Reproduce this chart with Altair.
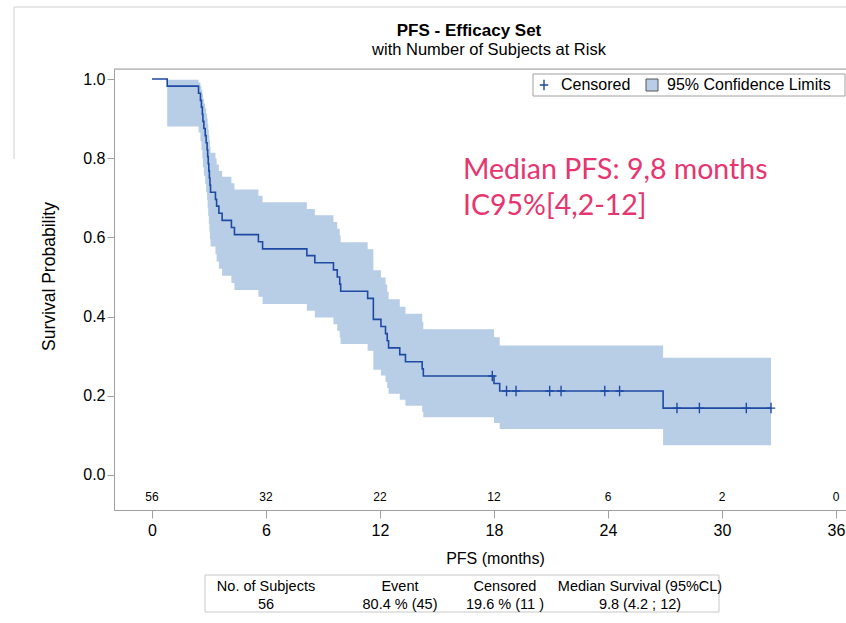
import altair as alt
import pandas as pd

# ---------------- data ----------------
step_times = [0, 0.80, 2.45, 2.55, 2.60, 2.65, 2.68, 2.73, 2.80, 2.85, 2.90,
              2.93, 2.96, 2.99, 3.02, 3.05, 3.08, 3.34, 3.40, 3.52, 3.69,
              4.18, 4.34, 5.60, 5.82, 8.15, 8.57, 9.55, 9.75, 9.88, 9.93,
              11.35, 11.65, 12.05, 12.29, 12.38, 12.45, 13.04, 13.34, 14.22, 14.28,
              18.00, 18.30, 26.90, 32.58]
survival = [1.000, 0.982, 0.964, 0.946, 0.929, 0.911, 0.893, 0.875, 0.857, 0.839, 0.821,
            0.804, 0.786, 0.768, 0.750, 0.732, 0.714, 0.696, 0.679, 0.661, 0.643,
            0.625, 0.607, 0.589, 0.571, 0.554, 0.536, 0.518, 0.500, 0.482, 0.464,
            0.446, 0.393, 0.375, 0.357, 0.339, 0.321, 0.304, 0.286, 0.268, 0.250,
            0.231, 0.212, 0.169, 0.169]
band_times = [0.80, 2.45, 2.55, 2.60, 2.65, 2.68, 2.73, 2.80, 2.85, 2.90,
              2.93, 2.96, 2.99, 3.02, 3.05, 3.08, 3.34, 3.40, 3.52, 3.69,
              4.18, 4.34, 5.60, 5.82, 8.15, 8.57, 9.55, 9.75, 9.88, 9.93,
              11.35, 11.65, 12.05, 12.29, 12.38, 12.45, 13.04, 13.34, 14.22, 14.28,
              18.00, 18.30, 26.90, 32.58]
band_lower = [0.880, 0.865, 0.843, 0.821, 0.799, 0.777, 0.756, 0.735, 0.714, 0.694,
              0.673, 0.654, 0.634, 0.615, 0.596, 0.577, 0.558, 0.539, 0.521, 0.503,
              0.485, 0.467, 0.450, 0.432, 0.415, 0.398, 0.381, 0.364, 0.347, 0.331,
              0.314, 0.266, 0.251, 0.235, 0.220, 0.205, 0.190, 0.175, 0.160, 0.146,
              0.131, 0.116, 0.075, 0.075]
band_upper = [0.998, 0.991, 0.982, 0.973, 0.962, 0.950, 0.938, 0.926, 0.913, 0.900,
              0.886, 0.872, 0.858, 0.844, 0.829, 0.814, 0.799, 0.784, 0.768, 0.753,
              0.737, 0.721, 0.705, 0.689, 0.672, 0.656, 0.639, 0.622, 0.605, 0.588,
              0.570, 0.517, 0.499, 0.481, 0.463, 0.444, 0.425, 0.407, 0.387, 0.368,
              0.348, 0.327, 0.296, 0.296]
censor_times = [17.91, 18.66, 19.16, 20.93, 21.53, 23.83, 24.61, 27.63, 28.81, 31.28, 32.58]
censor_surv = [0.250, 0.212, 0.212, 0.212, 0.212, 0.212, 0.212, 0.169, 0.169, 0.169, 0.169]
risk_times = [0, 6, 12, 18, 24, 30, 36]
risk_counts = ["56", "32", "22", "12", "6", "2", "0"]
x_ticks = [0, 6, 12, 18, 24, 30, 36]
y_ticks = [0.0, 0.2, 0.4, 0.6, 0.8, 1.0]
table_headers = ["No. of Subjects", "Event", "Censored", "Median Survival (95%CL)"]
table_values = ["56", "80.4 % (45)", "19.6 % (11 )", "9.8 (4.2 ; 12)"]
title_text = "PFS - Efficacy Set"
subtitle_text = "with Number of Subjects at Risk"
note_lines = ["Median PFS: 9,8 months", "IC95%[4,2-12]"]
legend_labels = ["Censored", "95% Confidence Limits"]

# ---------------- styling ----------------
FONT = "Liberation Sans"
BAND = "#B8CDE6"
LINE = "#1D4AA2"
GRAY = "#A0A0A0"
PINK = "#E6356F"
W, H = 732, 441
PLUS = "M0,-1L0,1M-0.8,0L0.8,0"

xs = alt.Scale(domain=[-2, 36.526], nice=False, zero=False)
ys = alt.Scale(domain=[-0.0884, 1.0253], nice=False, zero=False)
xaxis = alt.Axis(values=x_ticks, grid=False, labelFontSize=16, tickSize=8,
                 tickColor=GRAY, domainColor=GRAY, labelColor="black",
                 labelFlush=False, labelOverlap=False, labelPadding=4,
                 titleFontSize=16, titleFontWeight="normal", titlePadding=12,
                 titleColor="black", titleX=381)
yaxis = alt.Axis(values=y_ticks, format=".1f", grid=False, labelFontSize=16,
                 tickSize=7, tickColor=GRAY, domainColor=GRAY, labelColor="black",
                 labelFlush=False, labelOverlap=False, labelPadding=2,
                 titleFontSize=17.5, titleFontWeight="normal", titlePadding=24,
                 titleColor="black", titleY=207)
X = alt.X("t:Q", scale=xs, axis=xaxis, title="PFS (months)")

band_df = pd.DataFrame({"t": band_times, "lo": band_lower, "hi": band_upper})
line_df = pd.DataFrame({"t": step_times, "s": survival})
cens_df = pd.DataFrame({"t": censor_times, "s": censor_surv})
risk_df = pd.DataFrame({"t": risk_times, "n": risk_counts})

band = alt.Chart(band_df).mark_area(interpolate="step-after", color=BAND, opacity=1).encode(
    x=X,
    y=alt.Y("lo:Q", scale=ys, axis=yaxis, title="Survival Probability"),
    y2="hi:Q",
)
line = alt.Chart(line_df).mark_line(interpolate="step-after", color=LINE, strokeWidth=1.6).encode(
    x=X, y=alt.Y("s:Q", scale=ys, axis=yaxis, title="Survival Probability")
)
cens = alt.Chart(cens_df).mark_point(shape=PLUS, filled=False, size=110, color=LINE,
                                     strokeWidth=1.4, opacity=1).encode(
    x=X, y=alt.Y("s:Q", scale=ys, axis=yaxis, title="Survival Probability")
)
risk = alt.Chart(risk_df).mark_text(fontSize=12, font=FONT, color="black").encode(
    x=X, y=alt.value(428), text="n:N"
)

one = pd.DataFrame({"k": [0]})


def label(text, x, y, size=15, align="center", color="black", weight="normal", font=FONT):
    return alt.Chart(pd.DataFrame({"txt": [text]})).mark_text(
        fontSize=size, align=align, baseline="middle", color=color,
        fontWeight=weight, font=font
    ).encode(x=alt.value(x), y=alt.value(y), text="txt:N")


def hline(x1, x2, y, color=GRAY):
    return alt.Chart(one).mark_rule(color=color, strokeWidth=1).encode(
        x=alt.value(x1), x2=alt.value(x2), y=alt.value(y))


def vline(x, y1, y2, color=GRAY):
    return alt.Chart(one).mark_rule(color=color, strokeWidth=1).encode(
        x=alt.value(x), y=alt.value(y1), y2=alt.value(y2))


def box(x1, x2, y1, y2, fill="transparent", stroke=GRAY):
    return alt.Chart(one).mark_rect(fill=fill, stroke=stroke, strokeWidth=1).encode(
        x=alt.value(x1), x2=alt.value(x2), y=alt.value(y1), y2=alt.value(y2))


layers = [band, line, cens, risk,
          hline(0, W, 0),
          hline(-100, W, -62, "#D0D0D0"),
          vline(-100, -62, 90, "#D0D0D0"),
          label(title_text, 355, -38, size=17, weight="bold"),
          label(subtitle_text, 375, -19, size=16.5),
          box(419, 731, 5, 27),
          alt.Chart(one).mark_point(shape=PLUS, filled=False, size=110, color=LINE,
                                    strokeWidth=1.4, opacity=1).encode(
              x=alt.value(430), y=alt.value(16)),
          label(legend_labels[0], 447, 16, size=16, align="left"),
          box(532, 544, 10, 22, fill=BAND, stroke="#555555"),
          label(legend_labels[1], 553, 16, size=16, align="left"),
          label(note_lines[0], 349, 101, size=28.5, align="left", color=PINK, font="Lato"),
          label(note_lines[1], 349, 137, size=28.5, align="left", color=PINK, font="Lato"),
          box(91, 605, 506, 543, stroke="#C8C8C8")]

cols = [152, 286, 391, 526]
for c, h, v in zip(cols, table_headers, table_values):
    layers.append(label(h, c, 518, size=14.5))
    layers.append(label(v, c, 536, size=14.5))

chart = alt.layer(*layers).properties(
    width=W, height=H,
    autosize=alt.AutoSizeParams(type="none"),
    padding={"left": 114, "top": 69, "right": 0, "bottom": 113},
    background="white",
).configure_view(strokeWidth=0).configure(font=FONT)

chart.save("out.html", embed_options={"renderer": "svg", "actions": False})
